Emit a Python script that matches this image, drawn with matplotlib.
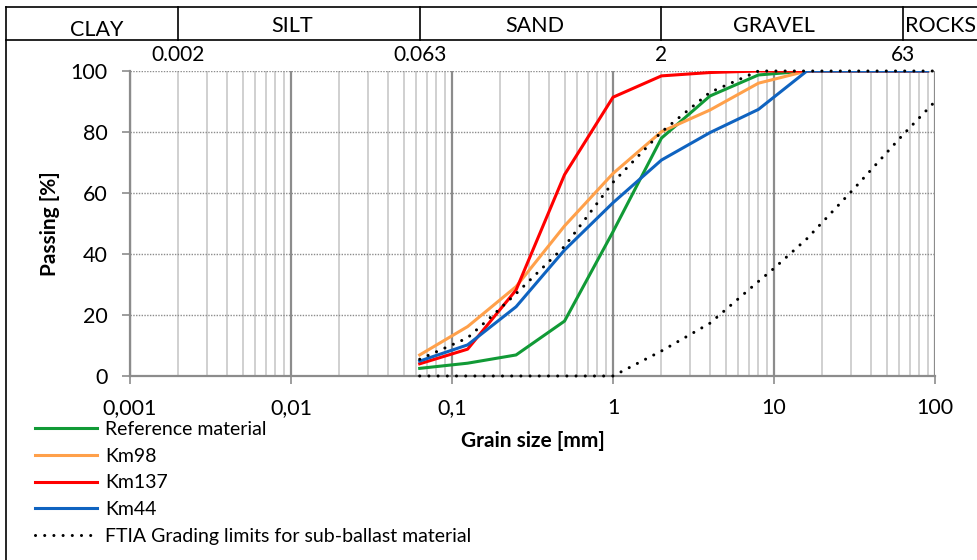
import numpy as np
import matplotlib.pyplot as plt
from matplotlib.lines import Line2D
from matplotlib.ticker import FixedLocator, NullFormatter

plt.rcParams['font.family'] = ['Lato', 'DejaVu Sans']

# sieve sizes [mm] and passing [%]
sieves = [0.063, 0.125, 0.25, 0.5, 1, 2, 4, 8, 16, 31.5, 63, 90]
ref_material = [2.5, 4.2, 6.9, 18, 47.3, 78, 91.8, 98.7, 100, 100, 100, 100]
km98 = [6.9, 16.2, 29.3, 49.2, 66.4, 80.1, 87.2, 96, 100, 100, 100, 100]
km137 = [4, 8.8, 28.2, 66, 91.4, 98.4, 99.5, 100, 100, 100, 100, 100]
km44 = [4.9, 10.2, 22.7, 41.3, 56.8, 70.8, 79.8, 87.4, 100, 100, 100, 100]

# grading limits for sub-ballast
upper_size = [0.063, 0.125, 0.18, 0.25, 0.5, 1, 2, 4, 8, 100]
upper_pass = [5.5, 12.5, 20, 27, 42.5, 63.5, 80, 93, 100, 100]
lower_size = [0.063, 1, 2, 4, 8, 10, 16, 31.5, 63, 100]
lower_pass = [0, 0, 8.2, 17.3, 31, 35.3, 45, 61.5, 79, 90]

fractions = ['CLAY', 'SILT', 'SAND', 'GRAVEL', 'ROCKS']
limits = [0.002, 0.063, 2, 63]
limit_labels = ['0.002', '0.063', '2', '63']
x_ticks = [0.001, 0.01, 0.1, 1, 10, 100]
x_ticklabels = ['0,001', '0,01', '0,1', '1', '10', '100']
y_ticks = [0, 20, 40, 60, 80, 100]

fig = plt.figure(figsize=(9.77, 5.6), dpi=100)
ax = fig.add_axes([130/977, 1-376/560, 805/977, 305/560])

ax.set_xscale('log')
ax.set_xlim(0.001, 100)
ax.set_ylim(0, 100)

# grid: solid decades, light minor lines, dotted horizontals
ax.xaxis.set_major_locator(FixedLocator(x_ticks))
minors = [m * 10.0**e for e in range(-3, 2) for m in range(2, 10)]
ax.xaxis.set_minor_locator(FixedLocator(minors))
ax.xaxis.set_minor_formatter(NullFormatter())
ax.set_xticklabels(x_ticklabels)
ax.set_yticks(y_ticks)
ax.grid(True, which='major', axis='x', color='#8c8c8c', lw=1.6)
ax.grid(True, which='minor', axis='x', color='#c8c8c8', lw=1.2)
ax.grid(True, which='major', axis='y', color='#8c8c8c', lw=1.0, ls=(0, (1, 1)))
ax.set_axisbelow(True)

for side in ['top', 'right']:
    ax.spines[side].set_visible(False)
for side in ['left', 'bottom']:
    ax.spines[side].set_color('#8c8c8c')
    ax.spines[side].set_linewidth(1.6)
ax.tick_params(which='major', direction='out', length=6, color='#8c8c8c', width=1.2,
               labelsize=15.5, pad=10)
ax.tick_params(axis='x', which='minor', length=0)
ax.tick_params(axis='y', length=6, pad=10)

ax.set_xlabel('Grain size [mm]', fontsize=15, fontweight='bold', labelpad=9)
ax.set_ylabel('Passing [%]', fontsize=15, fontweight='bold', labelpad=8)

dots = (0, (0.01, 3))
ax.plot(sieves, ref_material, color='#119a36', lw=2.2)
ax.plot(sieves, km98, color='#ffa04a', lw=2.2)
ax.plot(sieves, km137, color='#ff0000', lw=2.2)
ax.plot(sieves, km44, color='#0f63c0', lw=2.2)
ax.plot(upper_size, upper_pass, color='black', lw=2.2, ls=dots, dash_capstyle='round',
        clip_on=False, zorder=3)
ax.plot(lower_size, lower_pass, color='black', lw=2.2, ls=dots, dash_capstyle='round',
        clip_on=False, zorder=3)

# fraction limit values above the plot
for v, lab in zip(limits, limit_labels):
    ax.text(v, 102, lab, ha='center', va='bottom', fontsize=15)

# fraction header box
def fx(v):
    return ax.transData.transform((v, 0))[0] / fig.bbox.width

fig.canvas.draw()
top_y = 1 - 7/560
bot_y = 1 - 40/560
left_x = 6/977
fig.add_artist(Line2D([left_x, 1], [top_y, top_y], color='black', lw=1.2))
fig.add_artist(Line2D([left_x, 1], [bot_y, bot_y], color='black', lw=1.2))
fig.add_artist(Line2D([left_x, left_x], [0, top_y], color='black', lw=1.2))
edges = [fx(v) for v in limits]
for e in edges:
    fig.add_artist(Line2D([e, e], [bot_y, top_y], color='black', lw=1.2))

centers = [97/977, 292/977, 535/977, 774/977]
mid_y = 1 - 26/560
for name, c in zip(fractions[:4], centers):
    dy = -4/560 if name == 'CLAY' else 0
    fig.text(c, mid_y + dy, name, ha='center', va='center', fontsize=15.5)
fig.text(edges[-1] + 2/977, mid_y, fractions[4], ha='left', va='center', fontsize=15.5)

handles = [
    Line2D([], [], color='#119a36', lw=2.2),
    Line2D([], [], color='#ffa04a', lw=2.2),
    Line2D([], [], color='#ff0000', lw=2.2),
    Line2D([], [], color='#0f63c0', lw=2.2),
    Line2D([], [], color='black', lw=2.2, ls=dots, dash_capstyle='round'),
]
labels = ['Reference material', 'Km98', 'Km137', 'Km44',
          'FTIA Grading limits for sub-ballast material']
fig.legend(handles, labels, loc='upper left', bbox_to_anchor=(35/977, 1-421/560),
           frameon=False, fontsize=14, handlelength=3.2, handletextpad=0.4,
           labelspacing=0.5, borderaxespad=0, borderpad=0)

fig.savefig('out.png', dpi=100)
